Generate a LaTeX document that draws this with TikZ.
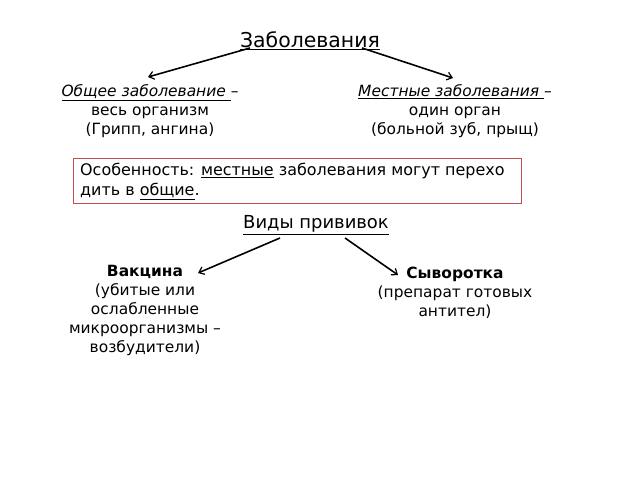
\documentclass[tikz,border=0pt]{standalone}
\usepackage{fontspec}
\setmainfont{DejaVu Sans}
\usetikzlibrary{arrows.meta}
\definecolor{boxred}{HTML}{C0504D}
\begin{document}
\begin{tikzpicture}[x=1bp,y=-1bp,
  txt/.style={font=\fontsize{15.5}{19}\selectfont,align=center,inner sep=0},
  arr/.style={line width=1.6pt,-{Straight Barb[length=5pt,width=8pt,line width=1.2pt]}}]
\useasboundingbox (0,0) rectangle (640,480);
\node[txt,font=\fontsize{20.5}{22}\selectfont] (z) at (310,41) {\underline{Заболевания}};
\coordinate (z1) at (250,48); \coordinate (z2) at (362,48);
\node[txt] (l) at (150,111) {\textit{\underline{Общее заболевание }}–\\весь организм\\(Грипп, ангина)};
\node[txt] (r) at (455,111) {\textit{\underline{Местные заболевания }}–\\один орган\\(больной зуб, прыщ)};
\coordinate (l1) at (148,77); \coordinate (r1) at (453,78);
\draw[arr] (z1) -- (l1);
\draw[arr] (z2) -- (r1);
\node[draw=boxred,line width=1.2pt,minimum width=448bp,minimum height=45bp,anchor=north west,inner sep=0] (box) at (73,158) {};
\node[txt,align=left,anchor=north west,font=\fontsize{16}{20}\selectfont] (bt) at (80,163) {Особенность: \underline{местные} заболевания могут перехо\\дить в \underline{общие}.};
\node[txt,font=\fontsize{18}{20}\selectfont] (v) at (316,225) {\underline{Виды прививок}};
\coordinate (v1) at (280,238); \coordinate (v2) at (345,238);
\coordinate (a1) at (198,273); \coordinate (a2) at (398,275);
\draw[arr] (v1) -- (a1);
\draw[arr] (v2) -- (a2);
\node[txt,anchor=north] (vac) at (145,265) {\textbf{Вакцина}\\(убитые или\\ослабленные\\микроорганизмы –\\возбудители)};
\node[txt,anchor=north] (syv) at (455,267) {\textbf{Сыворотка}\\(препарат готовых\\антител)};
\end{tikzpicture}
\end{document}
